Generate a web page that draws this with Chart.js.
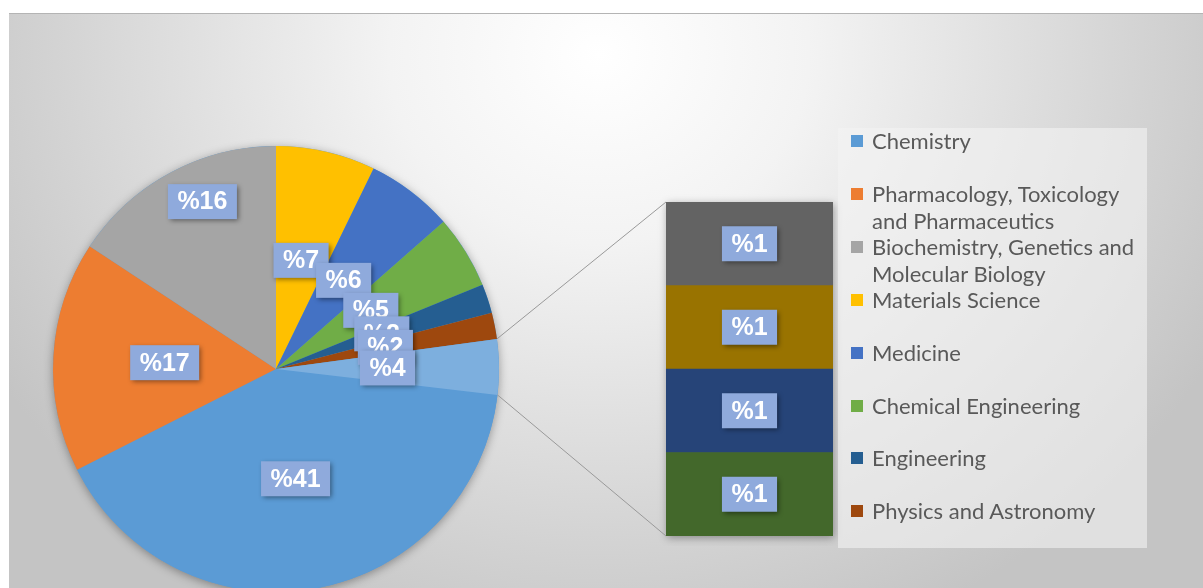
<!DOCTYPE html>
<html>
<head>
<meta charset="utf-8">
<script src="https://cdn.jsdelivr.net/npm/chart.js@4.4.0/dist/chart.umd.min.js"></script>
<style>
  html, body { margin: 0; padding: 0; width: 1203px; height: 588px; overflow: hidden; background: #fff; position: relative; }
  #frame {
    position: absolute; left: 9px; top: 13px; width: 1194px; height: 575px;
    border-top: 1px solid #b4b4b4;
    background: radial-gradient(ellipse 700px 630px at 590px 40px, #ffffff 0%, #f3f3f3 30%, #c4c4c4 100%);
  }
  #pie { position: absolute; left: 0; top: 0; }
  #bar { position: absolute; left: 656px; top: 192px; }
  #legend {
    position: absolute; left: 838px; top: 128px; width: 309px; height: 420px;
    background: rgba(243, 243, 243, 0.6);
    font-family: Lato, "Open Sans", sans-serif; font-size: 22px; color: #595959;
  }
  .item { position: absolute; left: 13px; height: 53px; line-height: 27px; }
  .item i { position: absolute; left: 0; top: 7px; width: 12px; height: 12px; }
  .item span { position: absolute; left: 21px; top: -1px; width: 276px; }
</style>
</head>
<body>
<div id="frame"></div>
<canvas id="bar" width="187" height="354"></canvas>
<canvas id="pie" width="1203" height="600"></canvas>
<div id="legend"></div>
<script>
// primary pie, legend order
const categories = [
  'Chemistry',
  'Pharmacology, Toxicology and Pharmaceutics',
  'Biochemistry, Genetics and Molecular Biology',
  'Materials Science',
  'Medicine',
  'Chemical Engineering',
  'Engineering',
  'Physics and Astronomy'
];
const shares = [40.6, 16.7, 15.7, 7.2, 6.3, 5.3, 2.1, 1.9];
const colors = ['#5B9BD5', '#ED7D31', '#A5A5A5', '#FFC000', '#4472C4', '#70AD47', '#255E91', '#9E480E'];

// secondary bar (top to bottom), not named in the legend
const otherCategories = ['Other 1', 'Other 2', 'Other 3', 'Other 4'];
const otherShares = [1.0, 1.0, 1.0, 1.0];
const otherColors = ['#636363', '#997300', '#264478', '#43682B'];
const otherSliceColor = '#7DAFDE';

const otherTotal = otherShares.reduce((a, b) => a + b, 0);
const total = shares.reduce((a, b) => a + b, 0) + otherTotal;
// first three slices end at 12 o'clock
const rotation = 360 * (1 - (shares[0] + shares[1] + shares[2]) / total);

// legend
const legend = document.getElementById('legend');
categories.forEach((c, i) => {
  const d = document.createElement('div');
  d.className = 'item';
  d.style.top = (i * 52.9) + 'px';
  d.innerHTML = '<i style="background:' + colors[i] + '"></i><span>' + c + '</span>';
  legend.appendChild(d);
});

function drawBox(ctx, text, x, y) {
  ctx.save();
  ctx.font = 'bold 25px "Liberation Sans", Arial, sans-serif';
  ctx.textAlign = 'center';
  ctx.textBaseline = 'middle';
  const w = ctx.measureText(text).width + 19, h = 35;
  ctx.shadowColor = 'rgba(0,0,0,0.45)';
  ctx.shadowBlur = 5;
  ctx.shadowOffsetX = 2;
  ctx.shadowOffsetY = 2;
  ctx.fillStyle = '#8FAADC';
  ctx.fillRect(x - w / 2, y - h / 2, w, h);
  ctx.shadowColor = 'transparent';
  ctx.fillStyle = '#fff';
  ctx.fillText(text, x, y + 1);
  ctx.restore();
}

const pct = v => '%' + Math.round(v / total * 100);

// secondary stacked bar
const barChart = new Chart(document.getElementById('bar'), {
  type: 'bar',
  data: {
    labels: [''],
    datasets: otherShares.map((v, i) => ({
      label: otherCategories[i], data: [v], backgroundColor: otherColors[i],
      barPercentage: 1, categoryPercentage: 1, borderWidth: 0
    })).reverse()
  },
  options: {
    responsive: false,
    animation: false,
    layout: { padding: 10 },
    scales: {
      x: { display: false, stacked: true },
      y: { display: false, stacked: true, min: 0, max: otherTotal }
    },
    plugins: { legend: { display: false }, tooltip: { enabled: false } }
  },
  plugins: [{
    id: 'barShadow',
    beforeDatasetsDraw(chart) {
      const a = chart.chartArea, ctx = chart.ctx;
      ctx.save();
      ctx.shadowColor = 'rgba(0,0,0,0.35)';
      ctx.shadowBlur = 8;
      ctx.shadowOffsetX = 1;
      ctx.shadowOffsetY = 2;
      ctx.fillStyle = '#666';
      ctx.fillRect(a.left, a.top, a.width, a.height);
      ctx.restore();
    },
    afterDatasetsDraw(chart) {
      chart.data.datasets.slice().reverse().forEach((ds, k) => {
        const di = chart.data.datasets.length - 1 - k;
        const el = chart.getDatasetMeta(di).data[0];
        drawBox(chart.ctx, pct(ds.data[0]), el.x, (el.y + el.base) / 2);
      });
    }
  }]
});

// primary pie
new Chart(document.getElementById('pie'), {
  type: 'pie',
  data: {
    labels: categories.concat(['Other']),
    datasets: [{
      data: shares.concat([otherTotal]),
      backgroundColor: colors.concat([otherSliceColor]),
      borderWidth: 0,
      hoverOffset: 0
    }]
  },
  options: {
    responsive: false,
    animation: false,
    rotation: rotation,
    layout: { padding: { left: 53, top: 146, right: 704, bottom: 8 } },
    plugins: { legend: { display: false }, tooltip: { enabled: false } }
  },
  plugins: [{
    id: 'pieExtras',
    beforeDatasetsDraw(chart) {
      const el = chart.getDatasetMeta(0).data[0], ctx = chart.ctx;
      ctx.save();
      ctx.shadowColor = 'rgba(0,0,0,0.35)';
      ctx.shadowBlur = 10;
      ctx.shadowOffsetY = 2;
      ctx.fillStyle = '#5B9BD5';
      ctx.beginPath();
      ctx.arc(el.x, el.y, el.outerRadius, 0, Math.PI * 2);
      ctx.fill();
      ctx.restore();
    },
    afterDatasetsDraw(chart) {
      const ctx = chart.ctx;
      const meta = chart.getDatasetMeta(0);
      const ds = chart.data.datasets[0];
      // connectors from the Other slice to the bar
      const o = meta.data[meta.data.length - 1];
      const bc = barChart.canvas, ys = barChart.scales.y, be = barChart.getDatasetMeta(0).data[0];
      const bx = bc.offsetLeft + be.x - be.width / 2;
      const bTop = bc.offsetTop + ys.getPixelForValue(otherTotal);
      const bBot = bc.offsetTop + ys.getPixelForValue(0);
      ctx.save();
      ctx.strokeStyle = '#999';
      ctx.lineWidth = 1;
      ctx.beginPath();
      ctx.moveTo(o.x + Math.cos(o.startAngle) * o.outerRadius, o.y + Math.sin(o.startAngle) * o.outerRadius);
      ctx.lineTo(bx, bTop);
      ctx.moveTo(o.x + Math.cos(o.endAngle) * o.outerRadius, o.y + Math.sin(o.endAngle) * o.outerRadius);
      ctx.lineTo(bx, bBot);
      ctx.stroke();
      ctx.restore();
      // data labels, the Biochemistry one sits further out
      meta.data.forEach((el, i) => {
        const mid = (el.startAngle + el.endAngle) / 2 + (i === 2 ? 0.08 : 0);
        const r = el.outerRadius * (i === 2 ? 0.82 : 0.5);
        drawBox(ctx, pct(ds.data[i]), el.x + Math.cos(mid) * r, el.y + Math.sin(mid) * r);
      });
    }
  }]
});
</script>
</body>
</html>
